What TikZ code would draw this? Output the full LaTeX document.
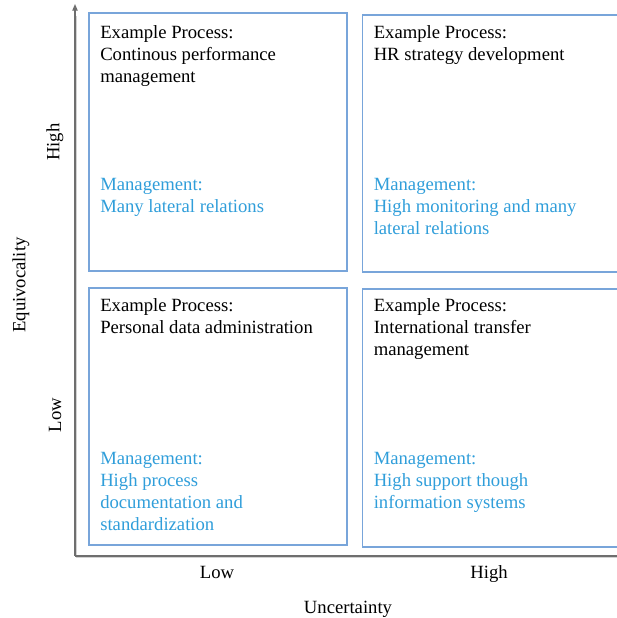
\documentclass[tikz,border=0pt]{standalone}
\usepackage{fontspec}
\setmainfont{Liberation Serif}
\usepackage{xcolor}
\usetikzlibrary{positioning,arrows.meta}

\definecolor{quadblue}{RGB}{120,165,218}
\definecolor{mgmtblue}{RGB}{48,158,218}
\definecolor{axisgray}{RGB}{110,110,110}

\begin{document}
\begin{tikzpicture}[x=0.75pt,y=-0.75pt,
		quad/.style={draw=quadblue, line width=1.25pt, inner sep=0pt, anchor=north west},
		proc/.style={inner sep=0pt, anchor=north west, align=left, font=\fontsize{14}{16.5}\selectfont},
		mgmt/.style={proc, text=mgmtblue},
		axislbl/.style={font=\fontsize{14}{16.5}\selectfont, inner sep=0pt}]
		\useasboundingbox (0,0) rectangle (617,618);
		% the two axes, with a faint shadow
		\coordinate (origin) at (75,556);
		\coordinate (ytop) at (75,4);
		\coordinate (xend) at (625,556);
		\draw[line width=1pt, gray!35] ([shift={(1.5,1.5)}]origin) -- ([shift={(1.5,12)}]ytop);
		\draw[line width=1pt, gray!35] ([shift={(1.5,1.5)}]origin) -- ([shift={(0,1.5)}]xend);
		\draw[line width=0.9pt, axisgray, -{Triangle[length=5pt,width=4pt]}] (origin) -- (ytop);
		\draw[line width=0.9pt, axisgray] (origin) -- (xend);
		% quadrants
		\node[quad, minimum width=193.5pt, minimum height=193.5pt] (lowhigh) at (88,12) {};
		\node[quad, minimum width=200pt, minimum height=192.75pt] (highhigh) at (361.5,14) {};
		\node[quad, minimum width=193.5pt, minimum height=192.75pt] (lowlow) at (88,287) {};
		\node[quad, minimum width=200pt, minimum height=193.5pt] (highlow) at (361.5,288) {};
		% quadrant texts
		\node[proc, below right=10pt and 9pt of lowhigh.north west] (p1) {Example Process:\\Continous performance\\management};
		\node[mgmt, below right=124.75pt and 9pt of lowhigh.north west] (m1) {Management:\\Many lateral relations};
		\node[proc, below right=8.5pt and 9pt of highhigh.north west] (p2) {Example Process:\\HR strategy development};
		\node[mgmt, below right=123.25pt and 9pt of highhigh.north west] (m2) {Management:\\High monitoring and many\\lateral relations};
		\node[proc, below right=8.5pt and 9pt of lowlow.north west] (p3) {Example Process:\\Personal data administration};
		\node[mgmt, below right=123.75pt and 9pt of lowlow.north west] (m3) {Management:\\High process\\documentation and\\standardization};
		\node[proc, below right=8pt and 9pt of highlow.north west] (p4) {Example Process:\\International transfer\\management};
		\node[mgmt, below right=122.75pt and 9pt of highlow.north west] (m4) {Management:\\High support though\\information systems};
		% axis labels
		\node[axislbl, rotate=90] (yhigh) at (55,142) {High};
		\node[axislbl, rotate=90] (ylow) at (55,415) {Low};
		\node[axislbl, rotate=90] (ylbl) at (21,285) {Equivocality};
		\node[axislbl, anchor=base] (xlow) at (217,578) {Low};
		\node[axislbl, anchor=base] (xhigh) at (489,578) {High};
		\node[axislbl, anchor=base] (xlbl) at (348,613) {Uncertainty};
\end{tikzpicture}
\end{document}
